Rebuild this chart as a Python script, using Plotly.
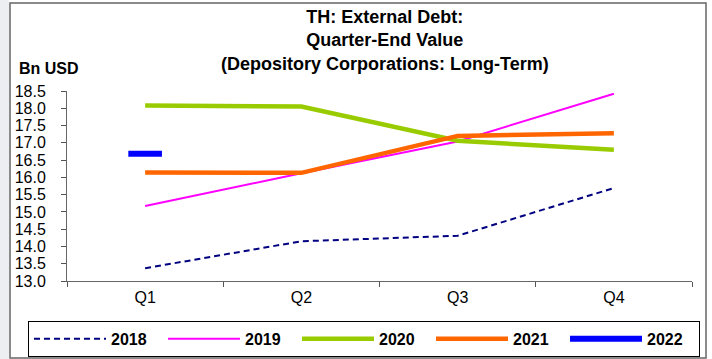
import plotly.graph_objects as go

quarters = ["Q1", "Q2", "Q3", "Q4"]
v2018 = [13.37, 14.15, 14.31, 15.69]
v2019 = [15.17, 16.12, 17.04, 18.42]
v2020 = [18.08, 18.05, 17.06, 16.80]
v2021 = [16.14, 16.13, 17.20, 17.28]
v2022 = [16.68]
y_ticks = [13.0, 13.5, 14.0, 14.5, 15.0, 15.5, 16.0, 16.5, 17.0, 17.5, 18.0, 18.5]

FONT = "Liberation Sans, Arial, sans-serif"

fig = go.Figure()
fig.add_trace(go.Scatter(x=quarters, y=v2018, mode="lines", name="2018",
                         line=dict(color="#000080", width=2, dash="6px,4px")))
fig.add_trace(go.Scatter(x=quarters, y=v2019, mode="lines", name="2019",
                         line=dict(color="#FF00FF", width=2)))
fig.add_trace(go.Scatter(x=quarters, y=v2020, mode="lines", name="2020",
                         line=dict(color="#99CC00", width=4.5)))
fig.add_trace(go.Scatter(x=quarters, y=v2021, mode="lines", name="2021",
                         line=dict(color="#FF6600", width=4.5)))
fig.add_trace(go.Scatter(x=quarters[:len(v2022)], y=v2022, mode="lines", name="2022",
                         line=dict(color="#0000FF", width=6)))
fig.add_trace(go.Scatter(x=quarters[:len(v2022)], y=v2022, mode="markers", showlegend=False,
                         marker=dict(symbol="line-ew", size=24,
                                     line=dict(color="#0000FF", width=6))))

fig.update_layout(
    width=712, height=359,
    margin=dict(l=67, r=20, t=91, b=78, autoexpand=False),
    paper_bgcolor="white", plot_bgcolor="white",
    font=dict(family=FONT, size=16, color="black"),
    showlegend=True,
    legend=dict(orientation="h", x=-0.0624, xref="paper", xanchor="left",
                y=-0.21, yref="paper", yanchor="top",
                bordercolor="black", borderwidth=1,
                font=dict(family=FONT, size=16, color="black", weight="bold"),
                itemwidth=72, entrywidth=47, entrywidthmode="pixels"),
    xaxis=dict(type="category", range=[-0.5, 3.5], tickson="boundaries",
               ticks="outside", ticklen=5, tickcolor="#555555",
               showline=True, linecolor="#666666", linewidth=1,
               showgrid=False, zeroline=False, ticklabelstandoff=2,
               tickfont=dict(family=FONT, size=16)),
    yaxis=dict(range=[13, 18.5], tickmode="array", tickvals=y_ticks,
               ticktext=[f"{t:.1f}" for t in y_ticks],
               ticks="outside", ticklen=5, tickcolor="#555555",
               showline=True, linecolor="#666666", linewidth=1,
               showgrid=False, zeroline=False, ticklabelstandoff=12,
               tickfont=dict(family=FONT, size=16)),
    annotations=[
        dict(text="<b>TH: External Debt:<br>Quarter-End Value<br>(Depository Corporations: Long-Term)</b>",
             xref="paper", yref="paper", x=0.509, xanchor="center",
             y=1.452, yanchor="top", showarrow=False, align="center",
             font=dict(family=FONT, size=18, color="black")),
        dict(text="<b>Bn USD</b>", xref="paper", yref="paper",
             x=-0.08, xanchor="left", y=1.121, yanchor="middle",
             showarrow=False, font=dict(family=FONT, size=16)),
    ],
    shapes=[
        dict(type="rect", xref="paper", yref="paper", x0=-0.1072, x1=-0.0928,
             y0=-0.5, y1=1.5, fillcolor="#eceef2", line=dict(width=0), layer="below"),
        dict(type="rect", xref="paper", yref="paper", x0=-0.0912, x1=1.0224,
             y0=-0.405, y1=1.463, fillcolor="rgba(0,0,0,0)",
             line=dict(color="#666666", width=1.5), layer="below"),
    ],
)

fig.write_html("out.html", config={"displayModeBar": False},
               post_script="document.body.style.margin='0';")
